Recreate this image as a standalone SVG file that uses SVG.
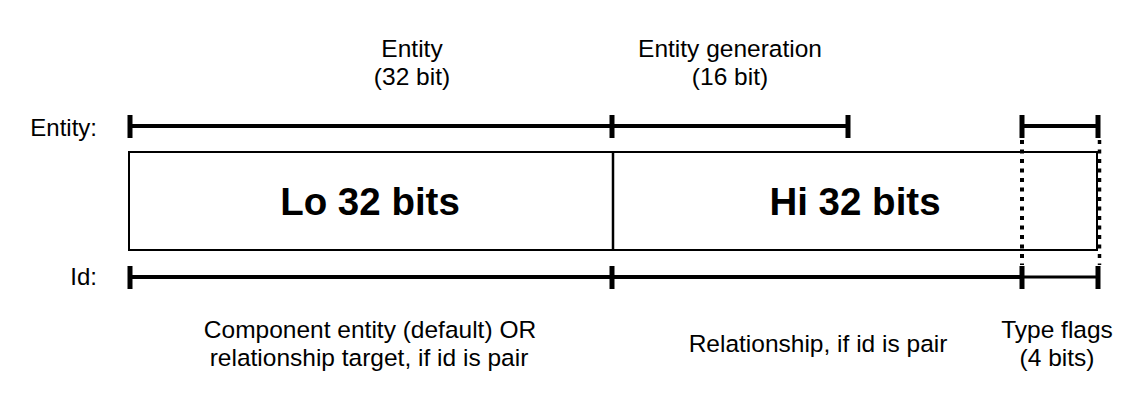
<svg xmlns="http://www.w3.org/2000/svg" width="1124" height="401" viewBox="0 0 1124 401">
<style>
text{font-family:"Liberation Sans",Arial,Helvetica,sans-serif;fill:#000;}
.lbl{font-size:24.5px;text-anchor:middle;}
.side{font-size:24px;text-anchor:end;}
.big{font-size:38.5px;font-weight:bold;text-anchor:middle;}
.bar{stroke:#000;stroke-width:4;fill:none;}
.thin{stroke:#000;stroke-width:3;fill:none;}
.tick{stroke:#000;stroke-width:5;fill:none;}
.box{stroke:#000;stroke-width:2;fill:#fff;}
.dot{stroke:#000;stroke-width:4;stroke-dasharray:4 5.5;fill:none;}
</style>
<rect width="1124" height="401" fill="#fff"/>
<g id="word">
<rect class="box" x="129" y="152" width="968" height="98"/>
<line x1="613" y1="152" x2="613" y2="250" stroke="#000" stroke-width="2.5"/>
</g>
<g id="lo">
<text class="big" x="370" y="215">Lo 32 bits</text>
</g>
<g id="hi">
<text class="big" x="855" y="215">Hi 32 bits</text>
</g>
<g id="connectors">
<line class="bar" x1="130" y1="126" x2="848" y2="126"/>
<line class="bar" x1="1022" y1="126" x2="1098" y2="126"/>
<line class="tick" x1="130" y1="115" x2="130" y2="138"/>
<line class="tick" x1="612" y1="115" x2="612" y2="138"/>
<line class="tick" x1="848" y1="115" x2="848" y2="138"/>
<line class="tick" x1="1022" y1="115" x2="1022" y2="138"/>
<line class="tick" x1="1098" y1="115" x2="1098" y2="138"/>
<line class="bar" x1="130" y1="277" x2="1022" y2="277"/>
<line class="thin" x1="1022" y1="277" x2="1098" y2="277"/>
<line class="tick" x1="130" y1="266" x2="130" y2="289"/>
<line class="tick" x1="612" y1="266" x2="612" y2="289"/>
<line class="tick" x1="1022" y1="266" x2="1022" y2="289"/>
<line class="tick" x1="1098" y1="266" x2="1098" y2="289"/>
<line class="dot" x1="1022" y1="140" x2="1022" y2="265"/>
<line class="dot" x1="1099.5" y1="140" x2="1099.5" y2="265" style="stroke-width:3.5"/>
</g>
<g id="labels">
<text class="side" x="97" y="136">Entity:</text>
<text class="side" x="97" y="285">Id:</text>
<text class="lbl" x="412" y="57">Entity</text>
<text class="lbl" x="412" y="85">(32 bit)</text>
<text class="lbl" x="730" y="57">Entity generation</text>
<text class="lbl" x="730" y="85">(16 bit)</text>
<text class="lbl" x="370" y="338">Component entity (default) OR</text>
<text class="lbl" x="369" y="366">relationship target, if id is pair</text>
<text class="lbl" x="818" y="352">Relationship, if id is pair</text>
<text class="lbl" x="1057" y="338">Type flags</text>
<text class="lbl" x="1057" y="366">(4 bits)</text>
</g>
</svg>
